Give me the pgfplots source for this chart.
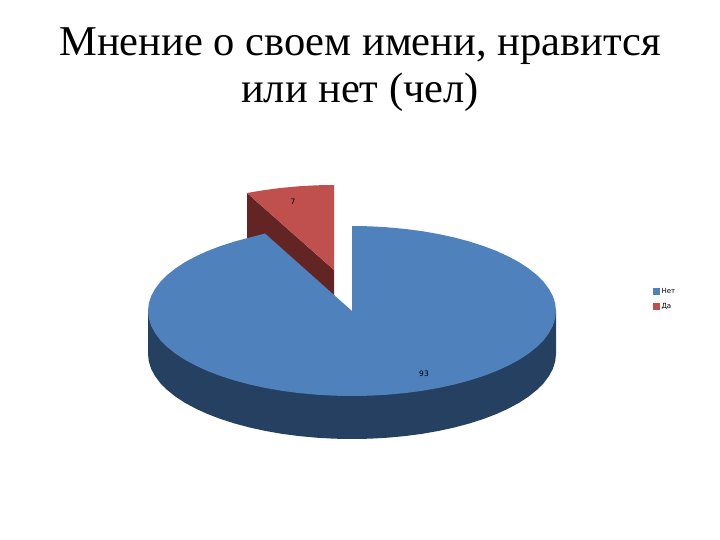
\documentclass[border=0pt]{standalone}
\usepackage{pgfplots}
\pgfplotsset{compat=1.18}
\usepackage{fontspec}
\setmainfont{Liberation Serif}
\newfontfamily\labelfont{DejaVu Sans}
\definecolor{netTop}{HTML}{4F81BD}
\definecolor{netSide}{HTML}{254061}
\definecolor{daTop}{HTML}{C0504D}
\definecolor{daSide}{HTML}{632523}
\begin{document}
\begin{tikzpicture}
\begin{axis}[
    scale only axis,
    width=720pt,
    height=540pt,
    xmin=0, xmax=720,
    ymin=0, ymax=540,
    y dir=reverse,
    hide axis,
    clip=false,
    reverse legend,
    legend cell align=left,
    legend style={
      draw=none, fill=none,
      at={(axis cs:653,299)}, anchor=west,
      font=\labelfont\fontsize{7}{9}\selectfont,
      inner sep=0pt, outer sep=0pt,
      row sep=4.6pt,
      /tikz/every even column/.append style={column sep=0pt},
    },
    legend image code/.code={
      \fill[#1] (0pt,-3.5pt) rectangle (6.5pt,3.5pt);
    },
]
% Да: wall then top, pulled out of the pie
\addplot[fill=daSide, draw=none, forget plot] coordinates {
  (247,193) (334,270) (334,313) (247,240) (247,193)
};
\addplot[fill=daTop, draw=none] coordinates {
  (334,270) (247,193) (264.2,190.1) (281.2,187.9) (298.6,186.3) (316.2,185.3) (334,185) (334,270)
};
\addlegendentry{Да}
% Нет: wall
\addplot[fill=netSide, draw=none, forget plot] coordinates {
  (556,311) (556,354) (555.2,361.4) (552.9,368.8) (549,376) (543.7,383.1) (536.9,389.9)
  (528.7,396.5) (519.1,402.8) (508.3,408.6) (496.2,414.1) (483.1,419.1) (469,423.6)
  (454,427.6) (438.2,431) (421.8,433.9) (404.8,436.1) (387.4,437.7) (369.8,438.7)
  (352,439) (334.2,438.7) (316.6,437.7) (299.2,436.1) (282.2,433.9) (265.8,431)
  (250,427.6) (235,423.6) (220.9,419.1) (207.8,414.1) (195.7,408.6) (184.9,402.8)
  (175.3,396.5) (167.1,389.9) (160.3,383.1) (155,376) (151.1,368.8) (148.8,361.4)
  (148,354) (148,311) (556,311)
};
% Нет: top
\addplot[fill=netTop, draw=none] coordinates {
  (352,311) (352,226) (369.8,226.3) (387.4,227.3) (404.8,228.9) (421.8,231.1) (438.2,234)
  (454,237.4) (469,241.4) (483.1,245.9) (496.2,250.9) (508.3,256.4) (519.1,262.2)
  (528.7,268.5) (536.9,275.1) (543.7,281.9) (549,289) (552.9,296.2) (555.2,303.6)
  (556,311) (555.2,318.4) (552.9,325.8) (549,333) (543.7,340.1) (536.9,346.9)
  (528.7,353.5) (519.1,359.8) (508.3,365.6) (496.2,371.1) (483.1,376.1) (469,380.6)
  (454,384.6) (438.2,388) (421.8,390.9) (404.8,393.1) (387.4,394.7) (369.8,395.7)
  (352,396) (334.2,395.7) (316.6,394.7) (299.2,393.1) (282.2,390.9) (265.8,388)
  (250,384.6) (235,380.6) (220.9,376.1) (207.8,371.1) (195.7,365.6) (184.9,359.8)
  (175.3,353.5) (167.1,346.9) (160.3,340.1) (155,333) (151.1,325.8) (148.8,318.4)
  (148,311) (148.8,303.6) (151.1,296.2) (155,289) (160.3,281.9) (167.1,275.1)
  (175.3,268.5) (184.9,262.2) (195.7,256.4) (207.8,250.9) (220.9,245.9) (235,241.4)
  (250,237.4) (265,233.5) (352,311)
};
\addlegendentry{Нет}
% value labels
\node[font=\labelfont\fontsize{7.5}{9}\selectfont] at (axis cs:293,202) {7};
\node[font=\labelfont\fontsize{7.5}{9}\selectfont] at (axis cs:424,373.5) {93};
% title
\node[font=\fontsize{42.5}{47}\selectfont, align=center, anchor=center] at (axis cs:360,70)
  {Мнение о своем имени, нравится\\или нет (чел)};
\end{axis}
% hidden axis leaves no box of its own, so fix the page to the slide size
\pgfresetboundingbox
\path[use as bounding box] (0,0) rectangle (720pt,540pt);
\end{tikzpicture}
\end{document}
